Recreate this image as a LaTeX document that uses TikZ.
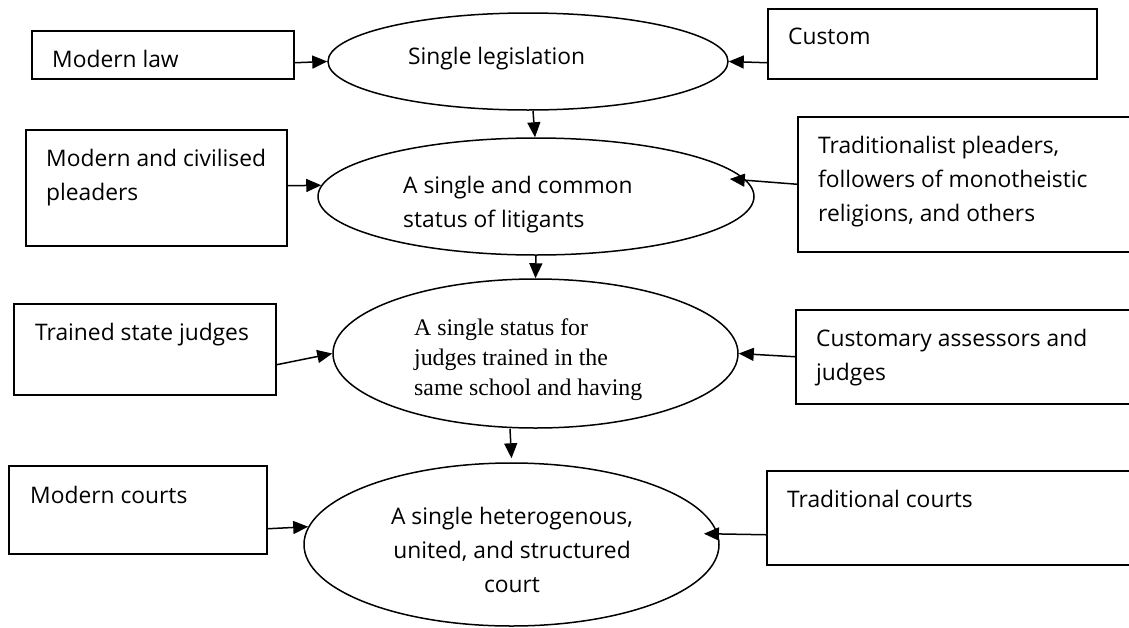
\documentclass[tikz,border=0pt]{standalone}
\usepackage{fontspec}
\setmainfont{Open Sans}
\newfontfamily\timesf{Liberation Serif}
\usetikzlibrary{shapes.geometric,arrows.meta}
\tikzset{
  box/.style={draw, line width=1.5pt, rectangle, inner sep=0pt, anchor=north west},
  ell/.style={draw, line width=1.5pt, ellipse, inner sep=0pt},
  txt/.style={inner sep=0pt, anchor=north west, align=left, font=\fontsize{22.8}{34}\selectfont},
  serif/.style={inner sep=0pt, anchor=north west, align=left, font=\timesf\fontsize{23.8}{30}\selectfont},
  arr/.style={line width=1.5pt, -{Triangle[length=15pt,width=13pt]}}
}
\begin{document}
\begin{tikzpicture}[x=1pt,y=-1pt]
\useasboundingbox (0,0) rectangle (1129,627);
% ellipses
\node[ell, minimum width=400pt, minimum height=97pt] (E1) at (528,61.5) {};
\node[ell, minimum width=436pt, minimum height=117pt] (E2) at (536,196.5) {};
\node[ell, minimum width=405pt, minimum height=149pt] (E3) at (535.5,353.5) {};
\node[ell, minimum width=415pt, minimum height=163pt] (E4) at (511.5,544.5) {};
% boxes
\node[box, minimum width=262pt, minimum height=48pt] (mlaw) at (31,30) {};
\node[box, minimum width=329pt, minimum height=70pt] (custom) at (767,8) {};
\node[box, minimum width=261pt, minimum height=116pt] (mcp) at (25,129) {};
\node[box, minimum width=350pt, minimum height=135pt] (trad) at (797,116) {};
\node[box, minimum width=262pt, minimum height=91pt] (tsj) at (13,303) {};
\node[box, minimum width=350pt, minimum height=94pt] (cust) at (795,309) {};
\node[box, minimum width=258pt, minimum height=88pt] (mcourts) at (8,465) {};
\node[box, minimum width=380pt, minimum height=94pt] (tcourts) at (766,470) {};
% texts
\node[txt] (t1) at (52,50) {Modern law};
\node[txt] (t2) at (788,28) {Custom};
\node[txt] (t3) at (408,47) {Single legislation};
\node[txt] (t4) at (46,149) {Modern and civilised\\pleaders};
\node[txt] (t5) at (818,136) {Traditionalist pleaders,\\followers of monotheistic\\religions, and others};
\node[txt] (t6) at (403,176) {A single and common\\status of litigants};
\node[txt] (t7) at (35,323) {Trained state judges};
\node[serif] (t8) at (414,318.5) {A single status for\\judges trained in the\\same school and having};
\node[txt] (t9) at (816,329) {Customary assessors and\\judges};
\node[txt] (t10) at (30,486) {Modern courts};
\node[txt] (t11) at (787,490) {Traditional courts};
\node[txt, anchor=north, align=center] (t12) at (512,507) {A single heterogenous,\\united, and structured\\court};
% connectors
\draw[arr] ([yshift=-8pt]mlaw.east) -- (E1.west);
\draw[arr] ([yshift=-19pt]custom.west) -- (E1.east);
\draw[arr] ([xshift=5pt]E1.south) -- ([xshift=-1pt]E2.north);
\draw[arr] ([yshift=2pt]mcp.east) -- (E2.177);
\draw[arr] (trad.west) -- ([shift={(-25pt,17.5pt)}]E2.east);
\draw[arr] (E2.south) -- (E3.north);
\draw[arr] ([yshift=-15.5pt]tsj.east) -- (E3.west);
\draw[arr] (cust.west) -- (E3.east);
\draw[arr] ([xshift=-25.5pt]E3.south) -- ([yshift=4pt]E4.north);
\draw[arr] ([yshift=-19pt]mcourts.east) -- (E4.175);
\draw[arr] ([yshift=-17pt]tcourts.west) -- ([xshift=-14pt]E4.3);
\end{tikzpicture}
\end{document}
